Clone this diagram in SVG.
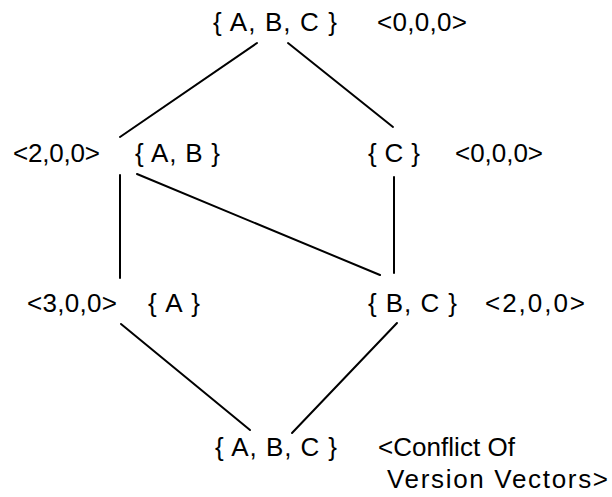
<svg xmlns="http://www.w3.org/2000/svg" width="612" height="497" viewBox="0 0 612 497">
<style>
text{font-family:"Liberation Sans",Arial,sans-serif;font-size:26px;fill:#000}
.e{stroke:#000;stroke-width:2;fill:none;stroke-linecap:round}
</style>
<rect width="612" height="497" fill="#fff"/>
<g id="connectors">
<line class="e" x1="257" y1="43" x2="120" y2="137"/>
<line class="e" x1="288" y1="43" x2="393" y2="127"/>
<line class="e" x1="120" y1="175" x2="120" y2="278"/>
<line class="e" x1="137" y1="174" x2="380" y2="275"/>
<line class="e" x1="394" y1="177" x2="394" y2="273"/>
<line class="e" x1="121" y1="324" x2="250" y2="430"/>
<line class="e" x1="397" y1="323" x2="292" y2="433"/>
</g>
<g id="n-top">
<text x="213" y="31" textLength="124">{ A, B, C }</text>
<text x="377" y="31" textLength="90">&lt;0,0,0&gt;</text>
</g>
<g id="n-ab">
<text x="13" y="162" textLength="87">&lt;2,0,0&gt;</text>
<text x="135" y="162" textLength="85">{ A, B }</text>
</g>
<g id="n-c">
<text x="368" y="162" textLength="52">{ C }</text>
<text x="455" y="162" textLength="88">&lt;0,0,0&gt;</text>
</g>
<g id="n-a">
<text x="27" y="312" textLength="90">&lt;3,0,0&gt;</text>
<text x="148" y="312" textLength="52">{ A }</text>
</g>
<g id="n-bc">
<text x="368" y="312" textLength="89">{ B, C }</text>
<text x="485" y="312" textLength="100">&lt;2,0,0&gt;</text>
</g>
<g id="n-bottom">
<text x="215" y="456" textLength="122">{ A, B, C }</text>
<text x="378" y="456" textLength="137">&lt;Conflict Of</text>
<text x="387" y="488" textLength="221">Version Vectors&gt;</text>
</g>
</svg>
